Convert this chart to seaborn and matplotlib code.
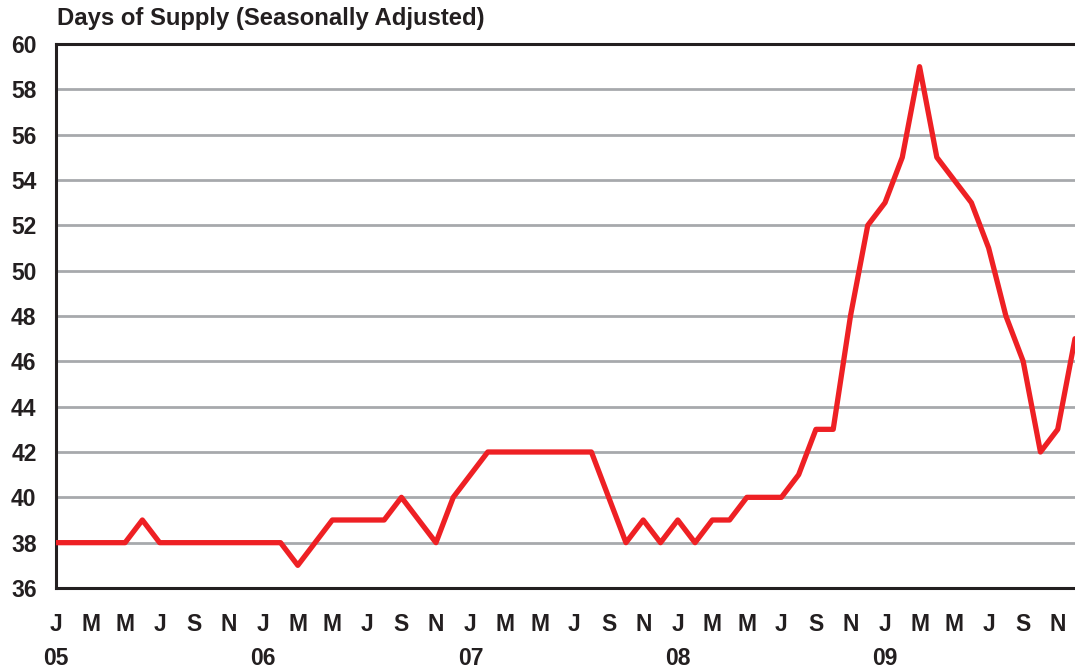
import numpy as np
import pandas as pd
import matplotlib
matplotlib.use("Agg")
import matplotlib.pyplot as plt
import seaborn as sns

# data: monthly days of supply, Jan 2005 - Dec 2009
months = pd.date_range("2005-01-01", "2009-12-01", freq="MS")
supply_2005 = [38, 38, 38, 38, 38, 39, 38, 38, 38, 38, 38, 38]
supply_2006 = [38, 38, 37, 38, 39, 39, 39, 39, 40, 39, 38, 40]
supply_2007 = [41, 42, 42, 42, 42, 42, 42, 42, 40, 38, 39, 38]
supply_2008 = [39, 38, 39, 39, 40, 40, 40, 41, 43, 43, 48, 52]
supply_2009 = [53, 55, 59, 55, 54, 53, 51, 48, 46, 42, 43, 47]
month_letters = ["J", "F", "M", "A", "M", "J", "J", "A", "S", "O", "N", "D"]
y_ticks = list(range(36, 61, 2))

days = supply_2005 + supply_2006 + supply_2007 + supply_2008 + supply_2009
df = pd.DataFrame({"idx": np.arange(len(months)), "days": days})

sns.set_style("white")
plt.rcParams["font.family"] = ["Liberation Sans", "DejaVu Sans"]
plt.rcParams["font.weight"] = "bold"

fig = plt.figure(figsize=(10.75, 6.71), dpi=100)
ax = fig.add_axes([56 / 1075, 83 / 671, 1019 / 1075, 544 / 671])

# grid
for v in y_ticks[1:-1]:
    ax.axhline(v, color="#a7a9ac", lw=2.0, zorder=1)

sns.lineplot(data=df, x="idx", y="days", color="#ee2024", lw=3.8, ax=ax,
             zorder=3, clip_on=True)

ax.set_xlim(0, 58.88)
ax.set_ylim(36, 60)
ax.set_yticks(y_ticks)
ax.set_yticklabels([str(v) for v in y_ticks], fontsize=16.5, fontweight="bold",
                   color="#231f20")

labels = []
for i, m in enumerate(months):
    if i % 2 == 0:
        lab = month_letters[m.month - 1]
        if m.month == 1:
            lab += "\n" + m.strftime("%y")
        labels.append(lab)
    else:
        labels.append("")
ax.set_xticks(np.arange(len(months)))
ax.set_xticklabels(labels, fontsize=16.5, fontweight="bold", color="#231f20",
                   linespacing=1.62)

ax.tick_params(axis="y", direction="out", length=7, width=2, color="#231f20", pad=7)
ax.tick_params(axis="x", direction="out", length=6, width=1, color="#555555", pad=12)

for s in ["left", "top", "bottom"]:
    ax.spines[s].set_color("#231f20")
    ax.spines[s].set_linewidth(2.2)
ax.spines["right"].set_visible(False)
ax.set_xlabel("")
ax.set_ylabel("")

fig.text(57 / 1075, 1 - 7 / 671, "Days of Supply (Seasonally Adjusted)",
         fontsize=17.2, fontweight="bold", color="#231f20", va="top", ha="left")

fig.savefig("out.png", dpi=100)
